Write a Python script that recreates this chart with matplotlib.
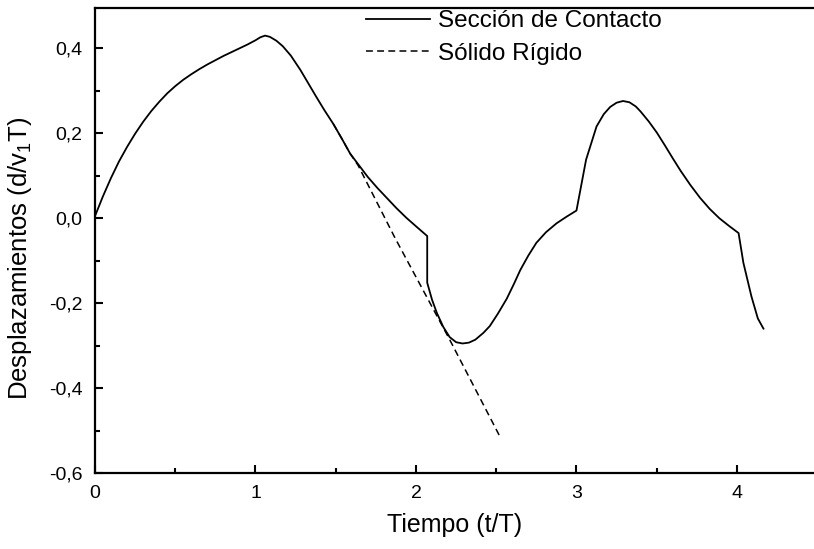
import matplotlib
matplotlib.use("Agg")
import matplotlib.pyplot as plt
from matplotlib.ticker import MultipleLocator, FixedLocator

plt.rcParams['font.family'] = ['Liberation Sans', 'DejaVu Sans']
plt.rcParams['mathtext.fontset'] = 'custom'
plt.rcParams['mathtext.rm'] = 'Liberation Sans'
plt.rcParams['mathtext.it'] = 'Liberation Sans:italic'

# Contact-section displacement
t_contacto = [0.0, 0.05, 0.10, 0.15, 0.20, 0.25, 0.30, 0.35, 0.40, 0.45, 0.50,
              0.55, 0.60, 0.65, 0.70, 0.75, 0.80, 0.85, 0.90, 0.95, 1.00, 1.03,
              1.06, 1.09, 1.13, 1.17, 1.22, 1.28, 1.33, 1.38, 1.43, 1.485, 1.54,
              1.59, 1.64, 1.70, 1.76, 1.82, 1.88, 1.94, 2.00, 2.07, 2.07, 2.10,
              2.13, 2.17, 2.21, 2.25, 2.29, 2.33, 2.37, 2.42, 2.46, 2.51, 2.565,
              2.61, 2.65, 2.70, 2.75, 2.81, 2.876, 2.94, 3.0, 3.06, 3.125, 3.17,
              3.21, 3.25, 3.29, 3.33, 3.37, 3.40, 3.45, 3.50, 3.55, 3.60, 3.65,
              3.71, 3.77, 3.83, 3.89, 3.95, 4.01, 4.04, 4.09, 4.13, 4.165]
d_contacto = [0.005, 0.052, 0.095, 0.134, 0.168, 0.199, 0.227, 0.252, 0.274, 0.294, 0.311,
              0.326, 0.339, 0.351, 0.362, 0.372, 0.382, 0.391, 0.400, 0.409, 0.419, 0.426,
              0.430, 0.427, 0.418, 0.405, 0.383, 0.349, 0.317, 0.285, 0.254, 0.222, 0.186,
              0.152, 0.127, 0.097, 0.071, 0.047, 0.023, 0.001, -0.019, -0.042, -0.152, -0.192,
              -0.223, -0.256, -0.28, -0.292, -0.295, -0.293, -0.286, -0.27, -0.254, -0.225, -0.19,
              -0.155, -0.122, -0.088, -0.058, -0.033, -0.012, 0.004, 0.018, 0.138, 0.216, 0.245,
              0.262, 0.272, 0.276, 0.273, 0.263, 0.251, 0.228, 0.202, 0.172, 0.141, 0.111,
              0.078, 0.048, 0.022, 0.0, -0.018, -0.035, -0.105, -0.184, -0.236, -0.26]

# Rigid-body displacement
t_rigido = [1.485, 1.54, 1.59, 1.64, 1.87, 2.21, 2.52]
d_rigido = [0.222, 0.186, 0.152, 0.124, -0.047, -0.286, -0.512]

x_ticks = [0, 1, 2, 3, 4]
x_ticklabels = ['0', '1', '2', '3', '4']
y_ticks = [-0.6, -0.4, -0.2, 0.0, 0.2, 0.4]
y_ticklabels = ['-0,6', '-0,4', '-0,2', '0,0', '0,2', '0,4']

fig = plt.figure(figsize=(8.14, 5.49), dpi=100)
ax = fig.add_axes([95 / 814, 76 / 549, 1 - 95 / 814, (473 - 8) / 549])

ax.plot(t_rigido, d_rigido, color='black', lw=1.1, linestyle=(0, (4.5, 2.8)),
        label='Sólido Rígido', zorder=2)
ax.plot(t_contacto, d_contacto, color='black', lw=1.3,
        label='Sección de Contacto', zorder=3)

ax.set_xlim(0, 4.48)
ax.set_ylim(-0.6, 0.495)

ax.xaxis.set_major_locator(FixedLocator(x_ticks))
ax.set_xticklabels(x_ticklabels)
ax.xaxis.set_minor_locator(MultipleLocator(0.5))
ax.yaxis.set_major_locator(FixedLocator(y_ticks))
ax.set_yticklabels(y_ticklabels)
ax.yaxis.set_minor_locator(MultipleLocator(0.1))

ax.tick_params(which='both', direction='in', top=False, right=False,
               width=1.5, labelsize=14, pad=9)
ax.tick_params(which='major', length=6)
ax.tick_params(which='minor', length=3.5)

for side in ('left', 'bottom', 'top'):
    ax.spines[side].set_linewidth(1.6)
ax.spines['right'].set_visible(False)

ax.set_xlabel('Tiempo (t/T)', fontsize=18)
ax.set_ylabel('Desplazamientos (d/v$_1$T)', fontsize=18.5)
ax.xaxis.set_label_coords(0.5, -0.085)
ax.yaxis.set_label_coords(-0.085, 0.462)

handles, labels = ax.get_legend_handles_labels()
ax.legend(handles[::-1], labels[::-1], loc='upper left',
          bbox_to_anchor=((366 - 95) / 719, 0.995), frameon=False,
          fontsize=17.5, handlelength=2.65, handletextpad=0.3,
          labelspacing=0.42, borderpad=0, borderaxespad=0)

fig.savefig('out.png', dpi=100)
